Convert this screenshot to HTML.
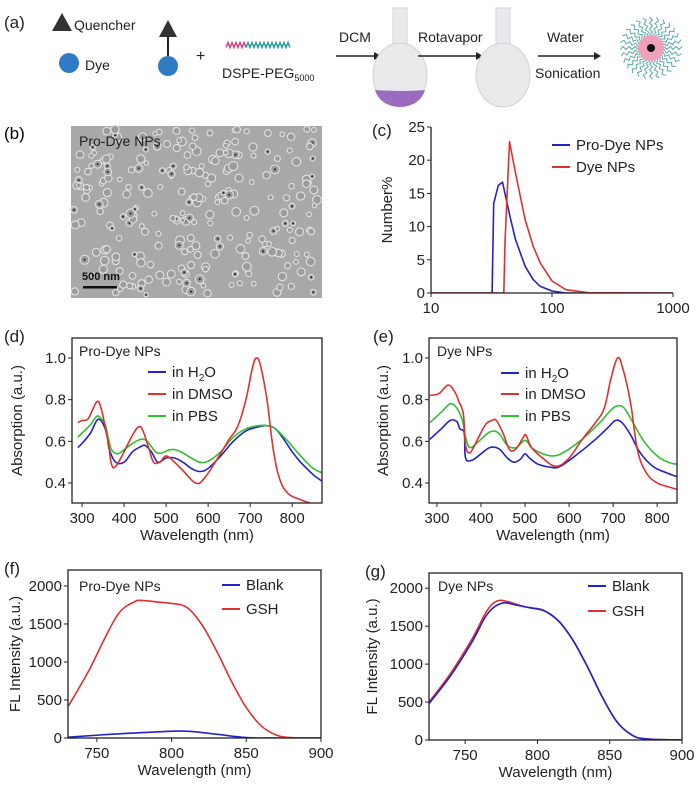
<!DOCTYPE html>
<html><head><meta charset="utf-8"><style>
html,body{margin:0;padding:0;background:#fff;}
svg{display:block;font-family:"Liberation Sans",Arial,sans-serif;}
</style></head><body>
<svg id="fig" width="700" height="787" viewBox="0 0 700 787" xmlns="http://www.w3.org/2000/svg">
<!-- Panel a -->
<g fill="#222" font-size="14">
<text x="4" y="28" font-size="17">(a)</text>
<polygon points="52,31 62,13 72,31" fill="#333"/>
<text x="74" y="30">Quencher</text>
<circle cx="69" cy="63" r="10" fill="#2f7cc4"/>
<text x="85" y="70">Dye</text>
<polygon points="159,37 168,20 177,37" fill="#333"/>
<line x1="168" y1="37" x2="168" y2="56" stroke="#222" stroke-width="2"/>
<circle cx="168" cy="66" r="10" fill="#2f7cc4"/>
<text x="196" y="61" font-size="16">+</text>
<path id="wave" fill="none" stroke-width="1.5" d=""/>
<text x="222" y="78">DSPE-PEG<tspan font-size="9" dy="3">5000</tspan></text>
<text x="339" y="42">DCM</text>
<line x1="336" y1="56" x2="374" y2="56" stroke="#222" stroke-width="1.5"/><polygon points="374,52 381,56 374,60"/>
<g>
<rect x="393" y="8" width="14" height="38" fill="#e8eaec" stroke="#cfd3d6"/>
<ellipse cx="400" cy="75" rx="27" ry="32" fill="#e8eaec" stroke="#cfd3d6"/>
<path d="M375,90 Q400,92 425,90 Q420,106 400,107 Q380,106 375,90Z" fill="#9b6bbf"/>
</g>
<text x="418" y="42">Rotavapor</text>
<line x1="418" y1="56" x2="476" y2="56" stroke="#222" stroke-width="1.5"/><polygon points="476,52 483,56 476,60"/>
<g>
<rect x="496" y="8" width="14" height="38" fill="#e8eaec" stroke="#cfd3d6"/>
<ellipse cx="503" cy="75" rx="27" ry="32" fill="#e8eaec" stroke="#cfd3d6"/>
</g>
<text x="547" y="42">Water</text>
<line x1="538" y1="56" x2="594" y2="56" stroke="#222" stroke-width="1.5"/><polygon points="594,52 601,56 594,60"/>
<text x="535" y="78">Sonication</text>
<g id="micelle"></g>
</g>
<!-- Panel b -->
<text x="4" y="139" font-size="17">(b)</text>
<g>
<rect x="71" y="126" width="251" height="172" fill="#a8a8a8"/>
<g id="rings"></g>
<text x="79" y="146" font-size="14" fill="#222">Pro-Dye NPs</text>
<text x="82" y="280" font-size="11" font-weight="bold" fill="#111">500 nm</text>
<rect x="83" y="286" width="34" height="2.5" fill="#111"/>
</g>
<g id="charts"></g>
</svg>
<script>
const NS="http://www.w3.org/2000/svg";
const svg=document.getElementById('fig');
const charts=document.getElementById('charts');
function mk(tag,attrs,parent,txt){const e=document.createElementNS(NS,tag);for(const k in attrs)e.setAttribute(k,attrs[k]);if(txt!==undefined)e.textContent=txt;(parent||charts).appendChild(e);return e;}

// ---- chart data ----
// (c) DLS
const cProX=[10,32,33,36,39,45,50,60,70,80,100,130,1000];
const cProY=[0,0,13.5,16.2,16.7,11.5,8,4,2,1,0.3,0,0];
const cDyeX=[10,40,41,44.5,50,60,70,80,100,130,200,1000];
const cDyeY=[0,0,8,22.8,18,11,7,4.5,1.8,0.5,0.05,0];
const cYTicks=[0,5,10,15,20,25];
const cXTicks=[10,100,1000];
// (d) Pro-Dye absorption
const dX_h2o=[290,300,320,335,345,355,360,365,380,400,420,440,450,465,480,500,520,540,560,580,600,630,660,690,720,740,760,780,800,820,850,870];
const dY_h2o=[0.57,0.59,0.64,0.70,0.70,0.66,0.62,0.56,0.50,0.50,0.55,0.575,0.58,0.55,0.50,0.52,0.52,0.50,0.47,0.455,0.47,0.53,0.60,0.65,0.67,0.675,0.66,0.61,0.55,0.50,0.44,0.41];
const dX_dmso=[290,300,315,335,345,355,362,370,380,400,420,435,445,460,470,485,500,520,540,570,590,620,650,670,690,705,715,725,740,755,770,790,820,850,870];
const dY_dmso=[0.69,0.70,0.71,0.79,0.76,0.67,0.60,0.49,0.48,0.55,0.63,0.67,0.65,0.56,0.50,0.50,0.53,0.50,0.46,0.40,0.42,0.51,0.61,0.67,0.80,0.95,1.0,0.96,0.80,0.56,0.42,0.35,0.32,0.30,0.30];
const dX_pbs=[290,300,320,335,345,355,362,370,385,400,420,440,455,475,490,510,530,560,580,600,630,660,690,720,740,760,790,820,850,870];
const dY_pbs=[0.62,0.64,0.68,0.72,0.71,0.68,0.62,0.56,0.54,0.56,0.59,0.61,0.60,0.55,0.545,0.56,0.555,0.52,0.50,0.505,0.55,0.62,0.66,0.675,0.675,0.66,0.60,0.53,0.47,0.45];
// (e) Dye absorption
const eX_h2o=[284,310,330,345,352,362,365,380,400,420,440,460,475,490,500,510,530,560,580,620,660,690,705,720,740,760,790,820,845];
const eY_h2o=[0.61,0.66,0.70,0.695,0.66,0.64,0.52,0.51,0.54,0.57,0.565,0.52,0.50,0.515,0.54,0.52,0.49,0.475,0.48,0.54,0.61,0.67,0.70,0.69,0.63,0.55,0.48,0.45,0.43];
const eX_dmso=[284,305,325,340,350,360,365,375,390,410,425,435,450,465,480,495,502,515,540,570,600,630,660,680,695,710,722,740,755,775,800,820,845];
const eY_dmso=[0.82,0.83,0.87,0.84,0.79,0.73,0.58,0.545,0.60,0.68,0.70,0.70,0.64,0.56,0.565,0.615,0.63,0.57,0.52,0.48,0.52,0.61,0.69,0.76,0.90,1.0,0.95,0.78,0.56,0.45,0.40,0.385,0.37];
const eX_pbs=[284,310,330,345,358,365,375,395,420,440,460,480,500,515,540,565,590,630,670,695,710,725,745,770,800,825,845];
const eY_pbs=[0.69,0.74,0.78,0.76,0.70,0.62,0.57,0.60,0.645,0.64,0.58,0.57,0.605,0.57,0.54,0.53,0.55,0.61,0.69,0.75,0.77,0.76,0.69,0.60,0.53,0.50,0.49];
const absYTicks=[0.4,0.6,0.8,1.0];
const absXTicks=[300,400,500,600,700,800];
// (f) Pro-Dye FL
const fX_gsh=[731,745,755,765,775,780,790,800,810,820,830,840,850,860,870,880,900];
const fY_gsh=[420,900,1300,1650,1790,1810,1790,1770,1720,1500,1150,750,400,160,40,5,0];
const fX_blank=[731,760,790,810,830,850,870,900];
const fY_blank=[10,50,80,90,50,5,0,0];
// (g) Dye FL
const gX_blank=[725,740,755,765,775,785,795,805,815,825,835,845,855,865,875,900];
const gY_blank=[480,850,1300,1650,1800,1780,1740,1700,1560,1300,950,560,240,70,15,0];
const gX_gsh=[725,740,755,765,772,780,790,800,805,815,825,835,845,855,865,875,900];
const gY_gsh=[500,880,1340,1700,1830,1820,1760,1730,1700,1560,1300,950,560,240,70,15,0];
const flYTicks=[0,500,1000,1500,2000];
const flXTicks=[750,800,850,900];

const BLUE="#2222c8",RED="#e03030",GREEN="#30c030";

function smoothPath(pts){
  let d="M"+pts[0][0].toFixed(1)+","+pts[0][1].toFixed(1);
  for(let i=0;i<pts.length-1;i++){
    const p0=pts[Math.max(i-1,0)],p1=pts[i],p2=pts[i+1],p3=pts[Math.min(i+2,pts.length-1)];
    const t=0.18;
    const c1=[p1[0]+(p2[0]-p0[0])*t,p1[1]+(p2[1]-p0[1])*t];
    const c2=[p2[0]-(p3[0]-p1[0])*t,p2[1]-(p3[1]-p1[1])*t];
    d+="C"+c1.map(v=>v.toFixed(1))+" "+c2.map(v=>v.toFixed(1))+" "+p2[0].toFixed(1)+","+p2[1].toFixed(1);
  }
  return d;
}

function chart(o){
  const g=mk('g',{});
  
  
  const sx=o.log?(v=>o.x0+(Math.log10(v)-Math.log10(o.dx[0]))/(Math.log10(o.dx[1])-Math.log10(o.dx[0]))*(o.x1-o.x0))
                :(v=>o.x0+(v-o.dx[0])/(o.dx[1]-o.dx[0])*(o.x1-o.x0));
  const sy=v=>o.y1-(v-o.dy[0])/(o.dy[1]-o.dy[0])*(o.y1-o.y0);
  const clipId='clip-'+o.name;
  const cp=mk('clipPath',{id:clipId},g);mk('rect',{x:o.x0,y:o.y0-2,width:o.x1-o.x0,height:o.y1-o.y0+2},cp);
  const sg=mk('g',{'clip-path':'url(#'+clipId+')'},g);
  o.series.forEach(s=>{
    const pts=s.x.map((x,i)=>[sx(x),sy(s.y[i])]);
    const p=mk('path',{d:o.log?("M"+pts.map(p=>p[0].toFixed(1)+","+p[1].toFixed(1)).join("L")):smoothPath(pts),fill:'none',stroke:s.c,'stroke-width':1.6,'stroke-linejoin':'round'},sg);
    
    
  });
  if(o.box){const r=mk('rect',{x:o.x0,y:o.y0,width:o.x1-o.x0,height:o.y1-o.y0,fill:'none',stroke:'#222','stroke-width':1.3},g);
    }
  else{mk('line',{x1:o.x0,y1:o.y0,x2:o.x0,y2:o.y1,stroke:'#222','stroke-width':1.3},g);mk('line',{x1:o.x0,y1:o.y1,x2:o.x1,y2:o.y1,stroke:'#222','stroke-width':1.3},g);}
  const ya=mk('g',{},g);
  o.yt.forEach(v=>{const y=sy(v);mk('line',{x1:o.x0-4,y1:y,x2:o.x0,y2:y,stroke:'#222'},ya);
    const t=mk('text',{x:o.x0-6,y:y+5,'text-anchor':'end','font-size':15,fill:'#222'},ya,o.yfmt?o.yfmt(v):String(v));
    });
  const xa=mk('g',{},g);
  o.xt.forEach(v=>{const x=sx(v);mk('line',{x1:x,y1:o.y1,x2:x,y2:o.y1+4,stroke:'#222'},xa);
    const t=mk('text',{x:x,y:o.y1+20,'text-anchor':'middle','font-size':15,fill:'#222'},xa,String(v));
    });
  if(o.xl){const t=mk('text',{x:(o.x0+o.x1)/2,y:o.y1+37,'text-anchor':'middle','font-size':15,fill:'#222'},g,o.xl);
    }
  if(o.yl){const t=mk('text',{x:0,y:0,'text-anchor':'middle','font-size':15,fill:'#222',transform:'translate('+o.ylx+','+((o.y0+o.y1)/2)+') rotate(-90)'},g,o.yl);
    }
  const t=mk('text',{x:o.px,y:o.py,'font-size':17,fill:'#222'},g,o.panel);
  
  if(o.title){const tt=mk('text',{x:o.title[1],y:o.title[2],'font-size':14,fill:'#222'},g,o.title[0]);
    }
  o.legend.forEach(L=>{const lg=mk('g',{},g);
    mk('line',{x1:L.x,y1:L.y,x2:L.x+18,y2:L.y,stroke:L.c,'stroke-width':2},lg);
    const tx=mk('text',{x:L.x+24,y:L.y+5,'font-size':15,fill:'#222'},lg);
    if(L.sub){tx.appendChild(document.createTextNode(L.t));const ts=mk('tspan',{'font-size':10,dy:4},tx,L.sub);mk('tspan',{dy:-4},tx,L.t2);}
    else tx.textContent=L.t;});
}

chart({name:'dls-chart',panel:'(c)',px:372,py:136,x0:431,x1:673,y0:127,y1:293,dx:[10,1000],dy:[0,25],log:true,
  series:[{x:cProX,y:cProY,c:BLUE,n:'pro-dye-size-line'},{x:cDyeX,y:cDyeY,c:RED,n:'dye-size-line'}],
  yt:cYTicks,xt:cXTicks,yl:'Number%',ylx:392,
  legend:[{x:552,y:145,c:BLUE,t:'Pro-Dye NPs'},{x:552,y:167,c:RED,t:'Dye NPs'}]});
chart({name:'prodye-absorption-chart',panel:'(d)',px:4,py:342,x0:72,x1:322,y0:338,y1:503,dx:[276,871],dy:[0.304,1.096],box:true,
  series:[{x:dX_h2o,y:dY_h2o,c:BLUE,n:'h2o-line'},{x:dX_pbs,y:dY_pbs,c:GREEN,n:'pbs-line'},{x:dX_dmso,y:dY_dmso,c:RED,n:'dmso-line'}],
  yt:absYTicks,yfmt:v=>v.toFixed(1),xt:absXTicks,xl:'Wavelength (nm)',yl:'Absorption (a.u.)',ylx:22,
  title:['Pro-Dye NPs',79,356],
  legend:[{x:148,y:372,c:BLUE,t:'in H',sub:'2',t2:'O'},{x:148,y:394,c:RED,t:'in DMSO'},{x:148,y:416,c:GREEN,t:'in PBS'}]});
chart({name:'dye-absorption-chart',panel:'(e)',px:373,py:342,x0:429,x1:677,y0:338,y1:503,dx:[282,845],dy:[0.304,1.096],box:true,
  series:[{x:eX_h2o,y:eY_h2o,c:BLUE,n:'h2o-line'},{x:eX_pbs,y:eY_pbs,c:GREEN,n:'pbs-line'},{x:eX_dmso,y:eY_dmso,c:RED,n:'dmso-line'}],
  yt:absYTicks,yfmt:v=>v.toFixed(1),xt:absXTicks,xl:'Wavelength (nm)',yl:'Absorption (a.u.)',ylx:388,
  title:['Dye NPs',437,356],
  legend:[{x:501,y:373,c:BLUE,t:'in H',sub:'2',t2:'O'},{x:501,y:394,c:RED,t:'in DMSO'},{x:501,y:416,c:GREEN,t:'in PBS'}]});
chart({name:'prodye-fl-chart',panel:'(f)',px:4,py:574,x0:68,x1:321,y0:570,y1:738,dx:[730.7,900],dy:[0,2210],box:true,
  series:[{x:fX_blank,y:fY_blank,c:BLUE,n:'blank-line'},{x:fX_gsh,y:fY_gsh,c:RED,n:'gsh-line'}],
  yt:flYTicks,xt:flXTicks,xl:'Wavelength (nm)',yl:'FL Intensity (a.u.)',ylx:20,
  title:['Pro-Dye NPs',79,591],
  legend:[{x:222,y:585,c:BLUE,t:'Blank'},{x:222,y:609,c:RED,t:'GSH'}]});
chart({name:'dye-fl-chart',panel:'(g)',px:365,py:577,x0:429,x1:682,y0:573,y1:740,dx:[725,900],dy:[0,2200],box:true,
  series:[{x:gX_gsh,y:gY_gsh,c:RED,n:'gsh-line'},{x:gX_blank,y:gY_blank,c:BLUE,n:'blank-line'}],
  yt:flYTicks,xt:flXTicks,xl:'Wavelength (nm)',yl:'FL Intensity (a.u.)',ylx:377,
  title:['Dye NPs',438,591],
  legend:[{x:588,y:586,c:BLUE,t:'Blank'},{x:588,y:611,c:RED,t:'GSH'}]});

// wavy PEG chain
(function(){let d1="",d2="";for(let i=0;i<=32;i++){const x=226+i*2,y=45+(i%2?-2.5:2.5);(i<=10?(d1+=(d1?"L":"M")+x+","+y):0);if(i>=10)d2+=(d2?"L":"M")+x+","+y;}
 const w=document.getElementById('wave');w.setAttribute('d',d1);w.setAttribute('stroke','#d04080');
 const w2=mk('path',{d:d2,fill:'none',stroke:'#2a9a9a','stroke-width':1.5},w.parentNode);
 })();
// micelle
(function(){const m=document.getElementById('micelle');const cx=651,cy=48;
 mk('circle',{cx:cx,cy:cy,r:13,fill:'#f0a0b8'},m);mk('circle',{cx:cx,cy:cy,r:4,fill:'#111'},m);
 for(let i=0;i<28;i++){const a=i/28*Math.PI*2;let d="";for(let k=0;k<=6;k++){const r=13+k*3,off=(k%2?1.5:-1.5);
  const x=cx+Math.cos(a)*r-Math.sin(a)*off,y=cy+Math.sin(a)*r+Math.cos(a)*off;d+=(k?"L":"M")+x.toFixed(1)+","+y.toFixed(1);}
  mk('path',{d:d,fill:'none',stroke:'#5aaaaa','stroke-width':1},m);}})();
// TEM rings (texture)
(function(){const r=document.getElementById('rings');let s=7;const rnd=()=>{s=(s*9301+49297)%233280;return s/233280;};
 for(let i=0;i<260;i++){const x=74+rnd()*245,y=129+rnd()*166,rr=2.2+rnd()*2.3,dark=rnd()<0.18;
  mk('circle',{cx:x.toFixed(1),cy:y.toFixed(1),r:rr.toFixed(1),fill:'#9c9c9c',stroke:'#e2e2e2','stroke-width':1.1},r);
  if(dark)mk('circle',{cx:x.toFixed(1),cy:y.toFixed(1),r:1.1,fill:'#333'},r);}})();
</script>
</body></html>
